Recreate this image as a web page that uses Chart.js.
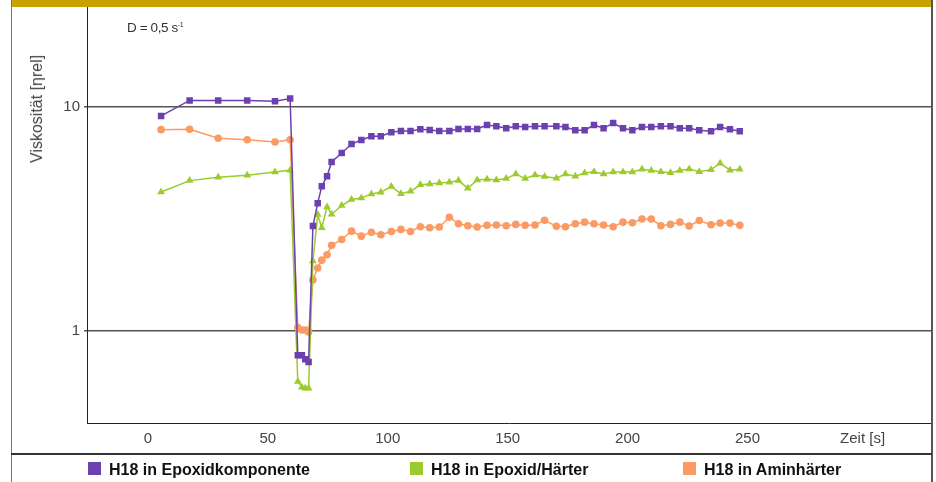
<!DOCTYPE html>
<html>
<head>
<meta charset="utf-8">
<script src="https://cdn.jsdelivr.net/npm/chart.js@4.4.0/dist/chart.umd.min.js"></script>
<style>
  body { margin: 0; background: #fff; }
  #wrap { position: relative; width: 936px; height: 482px; font-family: "Liberation Sans", Arial, sans-serif; }
  #viskoChart { position: absolute; left: 0; top: 0; }
  .note { position: absolute; left: 127px; top: 20px; font-size: 13.5px; letter-spacing: -0.4px; color: #333; }
  .note sup { font-size: 7px; }
  .ytitle { position: absolute; left: 37px; top: 109px; transform: translate(-50%, -50%) rotate(-90deg);
            white-space: nowrap; font-size: 16px; color: #444; }
  .leg { position: absolute; top: 462px; height: 14px; font-size: 16px; font-weight: bold; color: #111; white-space: nowrap; }
  .leg i { display: inline-block; width: 13px; height: 13px; vertical-align: top; margin-right: 8px; }
  .leg b { display: inline-block; line-height: 14px; vertical-align: top; position: relative; top: 1px; }
</style>
</head>
<body>
<div id="wrap">
  <canvas id="viskoChart" width="936" height="482"></canvas>
  <div class="note">D = 0,5 s<sup>-1</sup></div>
  <div class="ytitle">Viskosität [ηrel]</div>
  <div class="leg" style="left:88px"><i style="background:#6A41AE"></i><b>H18 in Epoxidkomponente</b></div>
  <div class="leg" style="left:410px"><i style="background:#9BCB2C"></i><b>H18 in Epoxid/Härter</b></div>
  <div class="leg" style="left:683px"><i style="background:#FC9A64"></i><b>H18 in Aminhärter</b></div>
</div>
<script>
// Zeit [s] - gemeinsame Messpunkte aller drei Kurven
const zeit = [5.5, 17.4, 29.3, 41.4, 53.0, 59.3,
    62.5, 64.2, 65.6, 67.0,
    68.8, 70.8, 72.5, 74.7, 76.6, 80.8, 84.9, 89.0, 93.2, 97.1,
    101.5, 105.5, 109.5, 113.6, 117.5, 121.5, 125.7, 129.5, 133.4, 137.3,
    141.4, 145.3, 149.4, 153.4, 157.3, 161.4, 165.4, 170.3, 174.1, 178.2,
    182.1, 186.0, 190.0, 194.0, 198.1, 202.0, 206.0, 209.9, 213.9, 217.9,
    221.8, 225.7, 229.9, 234.8, 238.6, 242.7, 246.8];

const epoxidkomponente = [9.12, 10.7, 10.7, 10.7, 10.6, 10.9,
    0.778, 0.778, 0.748, 0.727,
    2.94, 3.72, 4.43, 4.91, 5.68, 6.23, 6.83, 7.12, 7.40, 7.40,
    7.71, 7.81, 7.81, 7.95, 7.89, 7.81, 7.81, 7.98, 7.98, 7.98,
    8.31, 8.20, 8.03, 8.20, 8.14, 8.20, 8.20, 8.20, 8.13, 7.87,
    7.87, 8.31, 8.03, 8.48, 8.03, 7.87, 8.13, 8.13, 8.20, 8.20,
    8.03, 8.03, 7.87, 7.79, 8.13, 7.95, 7.79];

const epoxidHaerter = [4.17, 4.69, 4.86, 4.96, 5.13, 5.22,
    0.594, 0.561, 0.555, 0.555,
    2.05, 3.31, 2.89, 3.58, 3.32, 3.63, 3.86, 3.92, 4.09, 4.16,
    4.41, 4.10, 4.20, 4.49, 4.53, 4.58, 4.61, 4.69, 4.34, 4.72,
    4.76, 4.72, 4.79, 5.02, 4.79, 4.97, 4.89, 4.81, 5.02, 4.91,
    5.07, 5.14, 5.02, 5.13, 5.13, 5.13, 5.27, 5.20, 5.14, 5.09,
    5.20, 5.29, 5.14, 5.25, 5.61, 5.22, 5.27];

const aminhaerter = [7.92, 7.95, 7.25, 7.14, 6.98, 7.14,
    1.035, 1.01, 1.01, 0.99,
    1.69, 1.91, 2.07, 2.19, 2.41, 2.56, 2.79, 2.65, 2.76, 2.69,
    2.78, 2.84, 2.78, 2.92, 2.89, 2.91, 3.22, 3.01, 2.95, 2.91,
    2.96, 2.97, 2.95, 2.99, 2.96, 2.97, 3.12, 2.93, 2.92, 3.01,
    3.06, 3.01, 2.97, 2.92, 3.06, 3.04, 3.16, 3.16, 2.95, 2.99,
    3.06, 2.94, 3.11, 2.98, 3.03, 3.03, 2.96];

const xTicks = [0, 50, 100, 150, 200, 250];
const xTitlePos = 298;   // "Zeit [s]" steht in der Tick-Reihe
const yTicks = [1, 10];

function punkte(werte) {
    return zeit.map((t, i) => ({ x: t, y: werte[i] }));
}

function serie(label, werte, farbe, stil, radius) {
    return {
        label: label,
        data: punkte(werte),
        borderColor: farbe,
        backgroundColor: farbe,
        borderWidth: 1.5,
        pointStyle: stil,
        pointRadius: radius,
        pointBorderWidth: 0,
        tension: 0
    };
}

// Rahmen, goldener Balken, Trennlinie zur Legende
const rahmen = {
    id: 'rahmen',
    beforeDraw(chart) {
        const ctx = chart.ctx;
        ctx.save();
        ctx.fillStyle = '#fff';
        ctx.fillRect(0, 0, chart.width, chart.height);
        ctx.restore();
    },
    afterDraw(chart) {
        const ctx = chart.ctx;
        ctx.save();
        ctx.fillStyle = '#C9A100';
        ctx.fillRect(11, 0, 921, 7);
        ctx.strokeStyle = '#777';
        ctx.lineWidth = 1;
        ctx.beginPath();
        ctx.moveTo(11.5, 0); ctx.lineTo(11.5, 482);
        ctx.stroke();
        ctx.strokeStyle = '#555';
        ctx.lineWidth = 2;
        ctx.beginPath();
        ctx.moveTo(932, 0); ctx.lineTo(932, 482);
        ctx.stroke();
        ctx.strokeStyle = '#333';
        ctx.beginPath();
        ctx.moveTo(11, 454); ctx.lineTo(932, 454);
        ctx.stroke();
        ctx.restore();
    }
};

function ohneRand(s) {
    s.paddingTop = 0; s.paddingBottom = 0;
    s.paddingLeft = 0; s.paddingRight = 0;
}

const ctx = document.getElementById('viskoChart');
new Chart(ctx, {
    type: 'line',
    data: {
        datasets: [
            serie('H18 in Epoxidkomponente', epoxidkomponente, '#6A41AE', 'rect', 4.6),
            serie('H18 in Epoxid/Härter', epoxidHaerter, '#9BCB2C', 'triangle', 4.5),
            serie('H18 in Aminhärter', aminhaerter, '#FC9A64', 'circle', 3.8)
        ]
    },
    options: {
        responsive: false,
        animation: false,
        layout: { padding: { left: 11, top: 7, right: 4, bottom: 29 } },
        plugins: {
            legend: { display: false },
            tooltip: { enabled: false }
        },
        scales: {
            x: {
                type: 'linear',
                min: -25.4,
                max: 326.7,
                afterFit: (s) => { s.height = 30; ohneRand(s); },
                afterBuildTicks: (s) => {
                    s.ticks = xTicks.concat([xTitlePos]).map(v => ({ value: v }));
                },
                grid: { display: false, drawTicks: false },
                border: { display: true, color: '#222', width: 1 },
                ticks: {
                    padding: 7,
                    color: '#444',
                    font: { family: 'Liberation Sans', size: 15 },
                    maxRotation: 0,
                    callback: (v) => v === xTitlePos ? 'Zeit [s]' : v
                }
            },
            y: {
                type: 'logarithmic',
                min: 0.388,
                max: 27.95,
                afterFit: (s) => { s.width = 76; ohneRand(s); },
                afterBuildTicks: (s) => {
                    s.ticks = yTicks.map(v => ({ value: v }));
                },
                grid: { color: '#555', lineWidth: 1.5, tickLength: 3 },
                border: { display: true, color: '#222', width: 1 },
                ticks: {
                    padding: 4,
                    color: '#444',
                    font: { family: 'Liberation Sans', size: 15 },
                    callback: (v) => String(v)
                }
            }
        }
    },
    plugins: [rahmen]
});
</script>
</body>
</html>
